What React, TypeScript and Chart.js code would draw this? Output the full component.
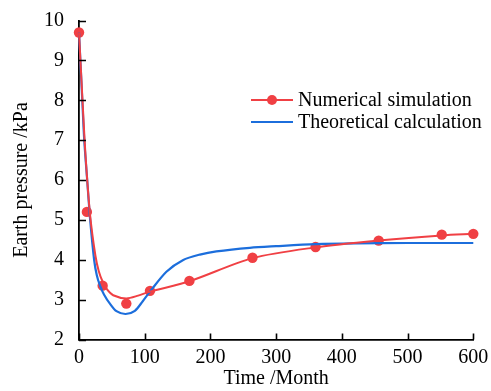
import React, { useEffect, useRef } from "react";
import { Chart, registerables } from "chart.js";

Chart.register(...registerables);

// Numerical simulation (markers)
const simTime = [0, 12, 36, 72, 108, 168, 264, 360, 456, 552, 600];
const simPressure = [9.7, 5.2, 3.35, 2.9, 3.22, 3.47, 4.05, 4.32, 4.48, 4.63, 4.65];

// Smooth fitted curve through the numerical results
const fitTime = [0, 5, 10, 17, 25, 30, 36, 43, 52, 72, 90, 108, 168, 264, 360, 456, 552, 600];
const fitPressure = [9.7, 8.1, 6.6, 5.1, 4.1, 3.72, 3.45, 3.25, 3.11, 3.03, 3.1, 3.2, 3.46, 4.04, 4.31, 4.48, 4.61, 4.65];

// Theoretical calculation curve
const theoTime = [0, 5, 8, 12, 17, 23, 27, 32, 38, 47, 57, 71, 85, 97, 108, 133, 158, 184, 209, 260, 300, 360, 420, 500, 600];
const theoPressure = [9.7, 8.0, 7.0, 6.1, 5.0, 4.0, 3.62, 3.35, 3.13, 2.9, 2.71, 2.64, 2.72, 2.96, 3.2, 3.7, 3.99, 4.13, 4.21, 4.3, 4.34, 4.39, 4.41, 4.42, 4.42];

const xTicks = [0, 100, 200, 300, 400, 500, 600];
const yTicks = [2, 3, 4, 5, 6, 7, 8, 9, 10];

const legendLabels = ["Numerical simulation", "Theoretical calculation"];

const RED = "rgb(240,64,68)";
const BLUE = "rgb(28,110,220)";
const FONT = "'Liberation Serif', 'Times New Roman', serif";
const FS = 20;

const pts = (xs: number[], ys: number[]) => xs.map((x, i) => ({ x, y: ys[i] }));

const inwardTicks = {
  id: "inwardTicks",
  afterDatasetsDraw(chart: any) {
    const { ctx, scales, chartArea } = chart;
    ctx.save();
    ctx.strokeStyle = "#000";
    ctx.lineWidth = 1.6;
    ctx.beginPath();
    xTicks.forEach((v) => {
      const px = Math.round(scales.x.getPixelForValue(v)) + 0.5;
      ctx.moveTo(px, chartArea.bottom);
      ctx.lineTo(px, chartArea.bottom - 6);
    });
    yTicks.forEach((v) => {
      const py = Math.round(scales.y.getPixelForValue(v)) + 0.5;
      ctx.moveTo(chartArea.left, py);
      ctx.lineTo(chartArea.left + 7, py);
    });
    ctx.stroke();

    // legend
    const lx = 251;
    const rows = [
      { y: 100, color: RED, marker: true, text: legendLabels[0] },
      { y: 122, color: BLUE, marker: false, text: legendLabels[1] },
    ];
    ctx.font = `${FS}px ${FONT}`;
    ctx.textBaseline = "middle";
    ctx.textAlign = "left";
    rows.forEach((r) => {
      ctx.strokeStyle = r.color;
      ctx.lineWidth = 2;
      ctx.beginPath();
      ctx.moveTo(lx, r.y);
      ctx.lineTo(lx + 42, r.y);
      ctx.stroke();
      if (r.marker) {
        ctx.fillStyle = r.color;
        ctx.beginPath();
        ctx.arc(lx + 21, r.y, 5, 0, Math.PI * 2);
        ctx.fill();
      }
      ctx.fillStyle = "#000";
      ctx.fillText(r.text, lx + 47, r.y + 1);
    });
    ctx.restore();
  },
};

export default function App() {
  const ref = useRef<HTMLCanvasElement>(null);
  useEffect(() => {
    document.body.style.margin = "0";
    const chart = new Chart(ref.current!, {
      type: "scatter",
      data: {
        datasets: [
          {
            label: "fit",
            data: pts(fitTime, fitPressure),
            showLine: true,
            borderColor: RED,
            borderWidth: 2,
            pointRadius: 0,
            tension: 0.3,
            clip: false,
          },
          {
            label: legendLabels[1],
            data: pts(theoTime, theoPressure),
            showLine: true,
            borderColor: BLUE,
            borderWidth: 2.2,
            pointRadius: 0,
            tension: 0.3,
            clip: false,
          },
          {
            label: legendLabels[0],
            data: pts(simTime, simPressure),
            showLine: false,
            backgroundColor: RED,
            borderColor: RED,
            pointRadius: 5.2,
            pointBorderWidth: 0,
            clip: false,
          },
        ],
      },
      options: {
        animation: false,
        responsive: false,
        devicePixelRatio: 1,
        layout: { padding: { top: 20.5, right: 17.7, left: 0, bottom: 0 } },
        plugins: { legend: { display: false }, tooltip: { enabled: false } },
        scales: {
          x: {
            type: "linear",
            min: 0,
            max: 600,
            afterFit: (s: any) => {
              s.height = 51.5;
              s.paddingLeft = 0;
              s.paddingRight = 0;
            },
            afterBuildTicks: (s: any) => {
              s.ticks = xTicks.map((v) => ({ value: v }));
            },
            grid: { display: false, drawTicks: false },
            border: { display: true, color: "#000", width: 1.8 },
            ticks: { color: "#000", font: { family: FONT, size: FS }, padding: 6, maxRotation: 0 },
            title: {
              display: true,
              text: "Time /Month",
              color: "#000",
              font: { family: FONT, size: FS },
              padding: { top: 0, bottom: 0 },
            },
          },
          y: {
            type: "linear",
            min: 2,
            max: 10,
            afterFit: (s: any) => {
              s.width = 79;
              s.paddingTop = 0;
              s.paddingBottom = 0;
            },
            afterBuildTicks: (s: any) => {
              s.ticks = yTicks.map((v) => ({ value: v }));
            },
            grid: { display: false, drawTicks: false },
            border: { display: true, color: "#000", width: 1.8 },
            ticks: { color: "#000", font: { family: FONT, size: FS }, padding: 15 },
            title: {
              display: true,
              text: "Earth pressure /kPa",
              color: "#000",
              font: { family: FONT, size: FS },
              padding: { top: 10, bottom: 0 },
            },
          },
        },
      },
      plugins: [inwardTicks],
    } as any);
    return () => chart.destroy();
  }, []);
  return <canvas ref={ref} width={491} height={391} style={{ display: "block" }} />;
}
